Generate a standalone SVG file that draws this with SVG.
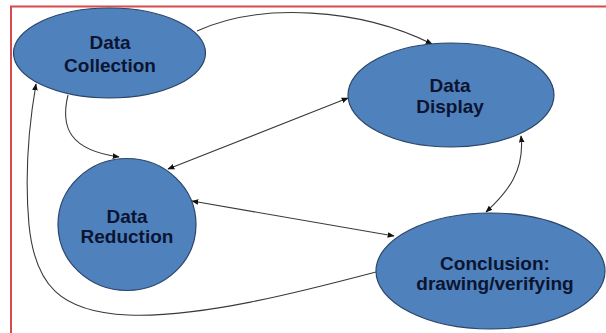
<svg xmlns="http://www.w3.org/2000/svg" width="606" height="333" viewBox="0 0 606 333">
<style>
.node{fill:#4f81bd;stroke:#2b4669;stroke-width:1.2}
.lbl{font-family:"Liberation Sans",Arial,sans-serif;font-weight:bold;font-size:19px;fill:#0b1430;text-anchor:middle}
.edge{fill:none;stroke:#3a3a3a;stroke-width:1.1}
</style>
<defs>
<marker id="ah" viewBox="0 0 10 10" refX="9" refY="5" markerWidth="7" markerHeight="7" orient="auto-start-reverse" markerUnits="userSpaceOnUse">
<path d="M0,1 L10,5 L0,9 z" fill="#111"/>
</marker>
</defs>
<rect width="606" height="333" fill="#fff"/>
<path d="M11,333 L11,6.5 L606,6.5" fill="none" stroke="#d64b4b" stroke-width="2"/>
<g id="connectors">
<path class="edge" d="M197,31 C260,2 360,8 432,44" marker-end="url(#ah)"/>
<path class="edge" d="M68,95 C60,128 70,150 119,157" marker-end="url(#ah)"/>
<path class="edge" d="M168,169 L348,98" marker-start="url(#ah)" marker-end="url(#ah)"/>
<path class="edge" d="M521,136 C525,170 508,192 486,212" marker-start="url(#ah)" marker-end="url(#ah)"/>
<path class="edge" d="M192,201 L394,236" marker-start="url(#ah)" marker-end="url(#ah)"/>
<path class="edge" d="M376,272 C300,292 200,318 128,315 C60,312 35,285 29,225 C25,180 28,130 36,84" marker-end="url(#ah)"/>
</g>
<g id="data-collection">
<ellipse class="node" cx="109.5" cy="53" rx="96" ry="45"/>
<text class="lbl" x="110" y="49">Data</text>
<text class="lbl" x="110" y="72">Collection</text>
</g>
<g id="data-display">
<ellipse class="node" cx="451" cy="95" rx="103" ry="52"/>
<text class="lbl" x="450" y="92">Data</text>
<text class="lbl" x="450" y="113">Display</text>
</g>
<g id="data-reduction">
<ellipse class="node" cx="127" cy="224.5" rx="69" ry="66"/>
<text class="lbl" x="127" y="223">Data</text>
<text class="lbl" x="127" y="243">Reduction</text>
</g>
<g id="conclusion">
<ellipse class="node" cx="490.5" cy="271" rx="114.5" ry="58"/>
<text class="lbl" x="495" y="270">Conclusion:</text>
<text class="lbl" x="495" y="290">drawing/verifying</text>
</g>
</svg>
